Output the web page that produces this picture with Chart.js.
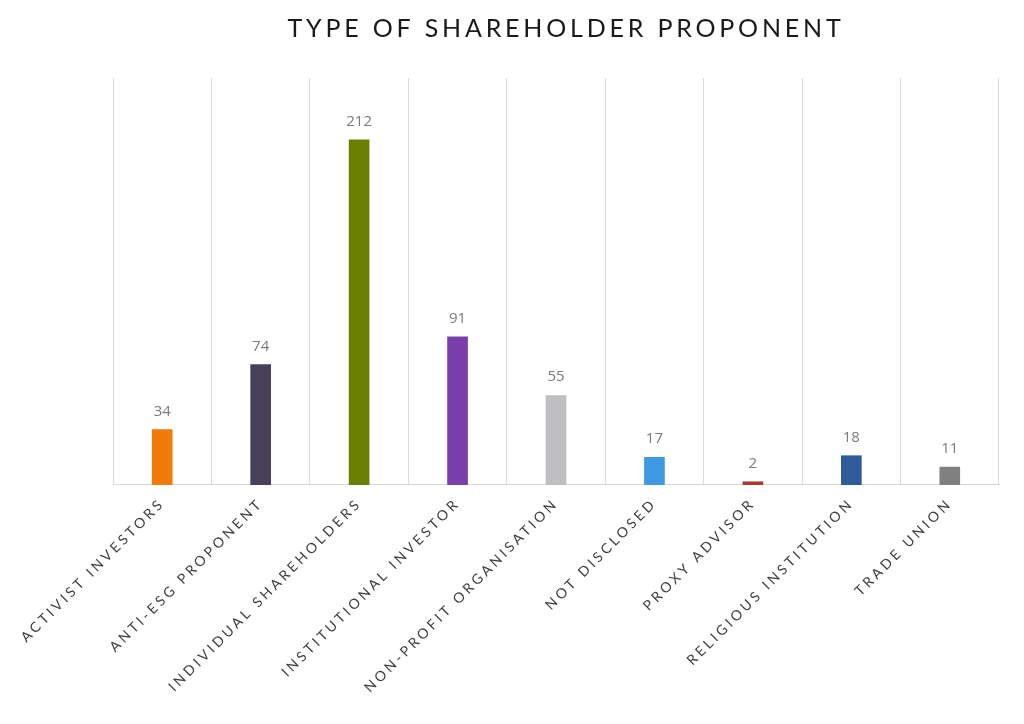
<!DOCTYPE html>
<html>
<head>
<meta charset="utf-8">
<script src="https://cdn.jsdelivr.net/npm/chart.js@4.4.1/dist/chart.umd.min.js"></script>
<style>
html, body { margin: 0; padding: 0; background: #fff; }
#wrap { width: 1024px; height: 724px; }
</style>
</head>
<body>
<div id="wrap"><canvas id="myChart"></canvas></div>
<script>
'use strict';
const chartTitle = 'TYPE OF SHAREHOLDER PROPONENT';
const categories = [
	'ACTIVIST INVESTORS',
	'ANTI-ESG PROPONENT',
	'INDIVIDUAL SHAREHOLDERS',
	'INSTITUTIONAL INVESTOR',
	'NON-PROFIT ORGANISATION',
	'NOT DISCLOSED',
	'PROXY ADVISOR',
	'RELIGIOUS INSTITUTION',
	'TRADE UNION',
];
const proponentCounts = [34, 74, 212, 91, 55, 17, 2, 18, 11];
const barColors = [
	'#f07a0b',
	'#48405a',
	'#6b8000',
	'#7a3fa9',
	'#bfbfc1',
	'#3f98e2',
	'#a83a36',
	'#2f5c98',
	'#808080',
];
const yMax = 250;

// letter spacing for tick labels (canvas state, reset on resize)
const spacingPlugin = {
	id: 'spacing',
	beforeUpdate(chart) {
		chart.ctx.letterSpacing = '3.2px';
	},
	beforeDraw(chart) {
		chart.ctx.letterSpacing = '3.2px';
	},
};

// chart title, drawn above the plot area
const titlePlugin = {
	id: 'chartTitle',
	afterDraw(chart) {
		const ctx = chart.ctx;
		const area = chart.chartArea;
		ctx.save();
		ctx.letterSpacing = '3.8px';
		ctx.font = '25px Lato';
		ctx.fillStyle = '#1a1a1a';
		ctx.textAlign = 'center';
		ctx.textBaseline = 'alphabetic';
		ctx.fillText(chartTitle, (area.left + area.right) / 2 + 10, 37);
		ctx.restore();
	},
};

// value labels over each bar
const valueLabelPlugin = {
	id: 'valueLabels',
	afterDatasetsDraw(chart) {
		const ctx = chart.ctx;
		const meta = chart.getDatasetMeta(0);
		ctx.save();
		ctx.letterSpacing = '0px';
		ctx.font = '15px "Open Sans"';
		ctx.fillStyle = '#7b7b7b';
		ctx.textAlign = 'center';
		ctx.textBaseline = 'alphabetic';
		meta.data.forEach((bar, i) => {
			ctx.fillText(String(proponentCounts[i]), bar.x, bar.y - 14);
		});
		ctx.restore();
	},
};

const ctx = document.getElementById('myChart');
const chart = new Chart(ctx, {
	type: 'bar',
	data: {
		labels: categories,
		datasets: [
			{
				data: proponentCounts,
				backgroundColor: barColors,
				borderWidth: 0,
				barThickness: 20,
			},
		],
	},
	plugins: [spacingPlugin, titlePlugin, valueLabelPlugin],
	options: {
		responsive: true,
		maintainAspectRatio: false,
		animation: false,
		layout: {
			padding: { top: 78, right: 25, left: 113, bottom: 18 },
		},
		plugins: {
			legend: { display: false },
			tooltip: { enabled: false },
		},
		scales: {
			x: {
				grid: { color: '#d9d9d9', drawTicks: false, offset: true },
				border: { color: '#d9d9d9' },
				ticks: {
					color: '#404040',
					font: { family: 'Lato', size: 14 },
					maxRotation: 45,
					minRotation: 45,
					padding: 10,
				},
			},
			y: {
				display: false,
				min: 0,
				max: yMax,
			},
		},
	},
});
</script>
</body>
</html>
